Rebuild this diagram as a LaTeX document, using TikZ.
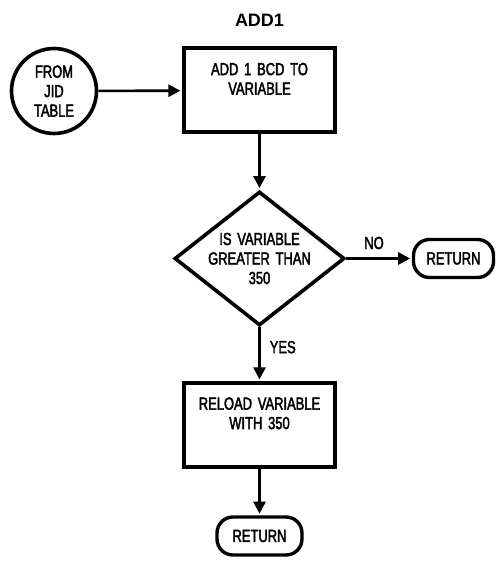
\documentclass[tikz,border=0pt]{standalone}
\usepackage{fontspec}
\setmainfont{Liberation Sans}[FakeStretch=0.74,FakeBold=2.2,WordSpace=1.6]
\newfontfamily\titlefont{Liberation Sans}
\usetikzlibrary{calc}
\usetikzlibrary{arrows.meta}
\usetikzlibrary{shapes.geometric}
\tikzset{
  chart/.style={font=\fontsize{17.5}{19.5}\selectfont,align=center,inner sep=0pt},
  procbox/.style={chart,draw,line width=4pt,rectangle,minimum width=151pt,minimum height=84pt},
  decision/.style={chart,draw,line width=3.6pt,diamond,minimum width=170pt,minimum height=134pt},
  startcirc/.style={chart,draw,line width=3.6pt,circle,minimum size=85pt},
  terminal/.style={chart,draw,line width=3.4pt,rectangle,rounded corners=16pt,minimum height=38pt},
  flow/.style={line width=2.6pt,-{Triangle[length=12pt,width=12pt]},shorten >=1.6pt}
}

\begin{document}
\begin{tikzpicture}[x=1pt,y=-1pt]
    \useasboundingbox (0,0) rectangle (496,561);

    % Coordinates
    \path (259.5,20) coordinate (T)
      (54,91) coordinate (Fc)
      (259.5,90.5) coordinate (Ac)
      (259.5,258.5) coordinate (Qc)
      (453.5,258.5) coordinate (R1c)
      (259.5,425) coordinate (Lc)
      (259.5,536) coordinate (R2c)
      ;

    % Title
    \node[font=\titlefont\bfseries\fontsize{18}{20}\selectfont] (title) at (T) {ADD1};

    % Nodes
    \node[startcirc] (from) at (Fc) {FROM\\JID\\TABLE};
    \node[procbox] (add) at (Ac) {ADD 1 BCD TO\\VARIABLE\\[4pt]};
    \node[decision,label={[chart]center:IS VARIABLE\\GREATER THAN\\350}] (test) at (Qc) {};
    \node[terminal,minimum width=80pt] (ret1) at (R1c) {RETURN};
    \node[procbox] (reload) at (Lc) {RELOAD VARIABLE\\WITH 350\\[4pt]};
    \node[terminal,minimum width=85pt] (ret2) at (R2c) {RETURN};

    % Arrows
    \draw[flow] (from) -- (add);
    \draw[flow] (add) -- (test);
    \draw[flow] (test.east) -- node[chart,above,yshift=8pt,xshift=-5pt] {NO} (ret1);
    \draw[flow] (test.south) -- node[chart,right,xshift=9pt,yshift=7pt] {YES} (reload);
    \draw[flow] (reload) -- (ret2);

  \end{tikzpicture}
\end{document}
